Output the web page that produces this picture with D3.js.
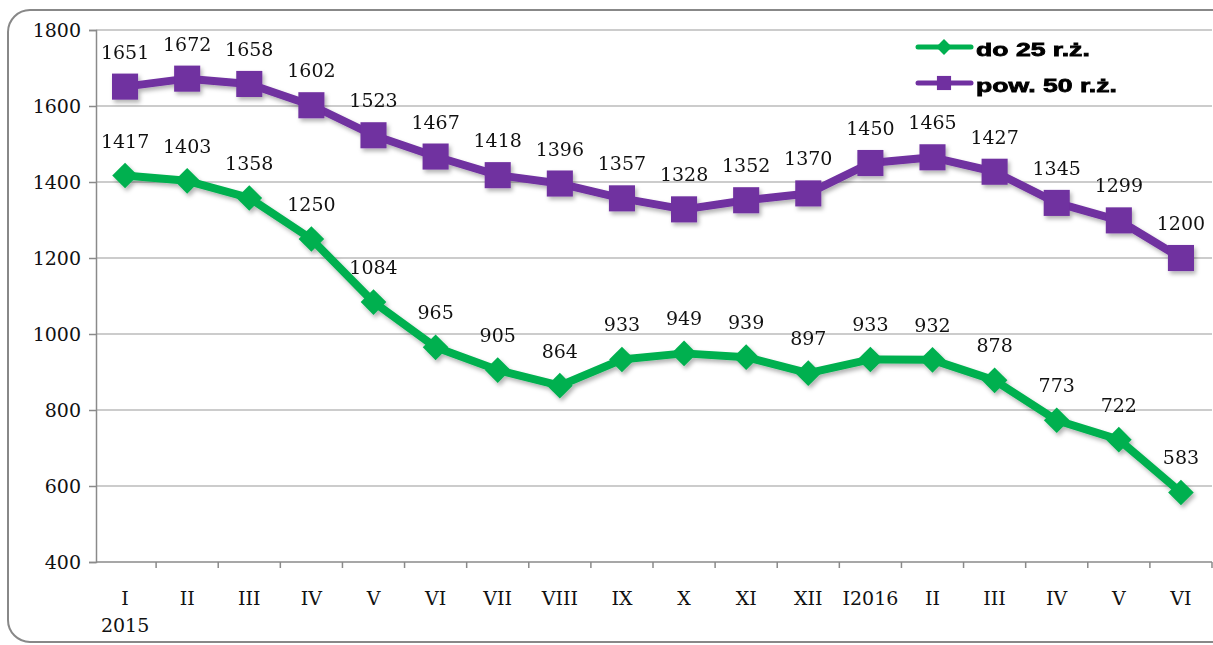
<!DOCTYPE html>
<html>
<head>
<meta charset="utf-8">
<script src="https://cdn.jsdelivr.net/npm/d3@7"></script>
<style>
  body { margin: 0; background: #fff; }
  svg { display: block; }
</style>
</head>
<body>
<svg></svg>
<script>
var months = ["I", "II", "III", "IV", "V", "VI", "VII", "VIII", "IX", "X", "XI", "XII", "I2016", "II", "III", "IV", "V", "VI"];
var under25 = [1417, 1403, 1358, 1250, 1084, 965, 905, 864, 933, 949, 939, 897, 933, 932, 878, 773, 722, 583];
var over50 = [1651, 1672, 1658, 1602, 1523, 1467, 1418, 1396, 1357, 1328, 1352, 1370, 1450, 1465, 1427, 1345, 1299, 1200];
var yTicks = [400, 600, 800, 1000, 1200, 1400, 1600, 1800];

var width = 1213, height = 645;
var svg = d3.select("svg").attr("width", width).attr("height", height);

var green = "#00b050", purple = "#7030a0";
var serif = "'DejaVu Serif', serif";
var fs = 19;

// shadow for series
var defs = svg.append("defs");
var f = defs.append("filter").attr("id", "shadow").attr("x", "-10%").attr("y", "-10%").attr("width", "120%").attr("height", "130%");
f.append("feDropShadow").attr("dx", 2).attr("dy", 3).attr("stdDeviation", 2).attr("flood-color", "#000").attr("flood-opacity", 0.3);

// outer frame
svg.append("rect")
    .attr("x", 8).attr("y", 10)
    .attr("width", 1230).attr("height", 632)
    .attr("rx", 22).attr("ry", 22)
    .attr("fill", "#fff")
    .attr("stroke", "#888").attr("stroke-width", 2);

var x = d3.scaleBand().domain(d3.range(months.length)).range([94, 1212]);
var y = d3.scaleLinear().domain([400, 1800]).range([562, 30]);
var cx = function(i) { return x(i) + x.bandwidth() / 2; };

// gridlines
svg.append("g").selectAll("line")
    .data(yTicks.slice(1))
    .join("line")
    .attr("x1", 96).attr("x2", 1212)
    .attr("y1", d => y(d)).attr("y2", d => y(d))
    .attr("stroke", "#9a9a9a").attr("stroke-width", 1.2);

// y axis
var yAxis = svg.append("g")
    .attr("transform", "translate(96,0)")
    .call(d3.axisLeft(y).tickValues(yTicks).tickSize(7).tickPadding(8).tickFormat(d3.format("d")));
yAxis.select(".domain").attr("stroke", "#8a8a8a").attr("stroke-width", 1.5);
yAxis.selectAll(".tick line").attr("stroke", "#8a8a8a").attr("stroke-width", 1.5);
yAxis.selectAll("text").attr("font-family", serif).attr("font-size", fs).attr("fill", "#111");

// x axis
var xAxis = svg.append("g")
    .attr("transform", "translate(0,562)")
    .call(d3.axisBottom(x).tickSize(0).tickFormat(""));
xAxis.select(".domain").attr("d", "M96,0H1212").attr("stroke", "#8a8a8a").attr("stroke-width", 1.5);
svg.append("g").selectAll("line")
    .data(d3.range(months.length))
    .join("line")
    .attr("x1", d => x(d) + x.bandwidth()).attr("x2", d => x(d) + x.bandwidth())
    .attr("y1", 562).attr("y2", 568)
    .attr("stroke", "#8a8a8a").attr("stroke-width", 1.5);
svg.append("g").selectAll("text")
    .data(months)
    .join("text")
    .attr("x", (d, i) => cx(i))
    .attr("y", 605)
    .attr("text-anchor", "middle")
    .attr("font-family", serif).attr("font-size", fs).attr("fill", "#111")
    .text(d => d);
svg.append("text")
    .attr("x", cx(0)).attr("y", 632)
    .attr("text-anchor", "middle")
    .attr("font-family", serif).attr("font-size", fs).attr("fill", "#111")
    .text("2015");

var line = d3.line().x((d, i) => cx(i)).y(d => y(d));

function drawSeries(values, color, shape) {
    var g = svg.append("g").attr("filter", "url(#shadow)");
    g.append("path")
        .datum(values)
        .attr("d", line)
        .attr("fill", "none")
        .attr("stroke", color)
        .attr("stroke-width", 8)
        .attr("stroke-linejoin", "round");
    g.selectAll(".m")
        .data(values)
        .join("path")
        .attr("d", d3.symbol().type(shape).size(shape === d3.symbolSquare ? 680 : 420))
        .attr("transform", (d, i) => "translate(" + cx(i) + "," + y(d) + ")")
        .attr("fill", color);
    svg.append("g").selectAll("text")
        .data(values)
        .join("text")
        .attr("x", (d, i) => cx(i))
        .attr("y", d => y(d) - 28)
        .attr("text-anchor", "middle")
        .attr("font-family", serif).attr("font-size", fs).attr("fill", "#111")
        .text(d => d);
}

drawSeries(under25, green, d3.symbolDiamond2);
drawSeries(over50, purple, d3.symbolSquare);

// legend
var legend = [
    { name: "do 25 r.ż.", color: green, shape: d3.symbolDiamond2, size: 160 },
    { name: "pow. 50 r.ż.", color: purple, shape: d3.symbolSquare, size: 200 }
];
var lg = svg.append("g").selectAll("g")
    .data(legend)
    .join("g")
    .attr("transform", (d, i) => "translate(0," + (47 + i * 36) + ")");
lg.append("line")
    .attr("x1", 918).attr("x2", 971)
    .attr("stroke", d => d.color).attr("stroke-width", 5).attr("stroke-linecap", "round");
lg.append("path")
    .attr("d", d => d3.symbol().type(d.shape).size(d.size)())
    .attr("transform", "translate(944,0)")
    .attr("fill", d => d.color);
lg.append("text")
    .attr("transform", "translate(976,9) scale(1.4,1)")
    .attr("font-family", "'Liberation Sans', Arial, sans-serif")
    .attr("font-weight", "bold").attr("font-size", 19).attr("fill", "#000")
    .attr("stroke", "#000").attr("stroke-width", 0.8)
    .text(d => d.name);
</script>
</body>
</html>
